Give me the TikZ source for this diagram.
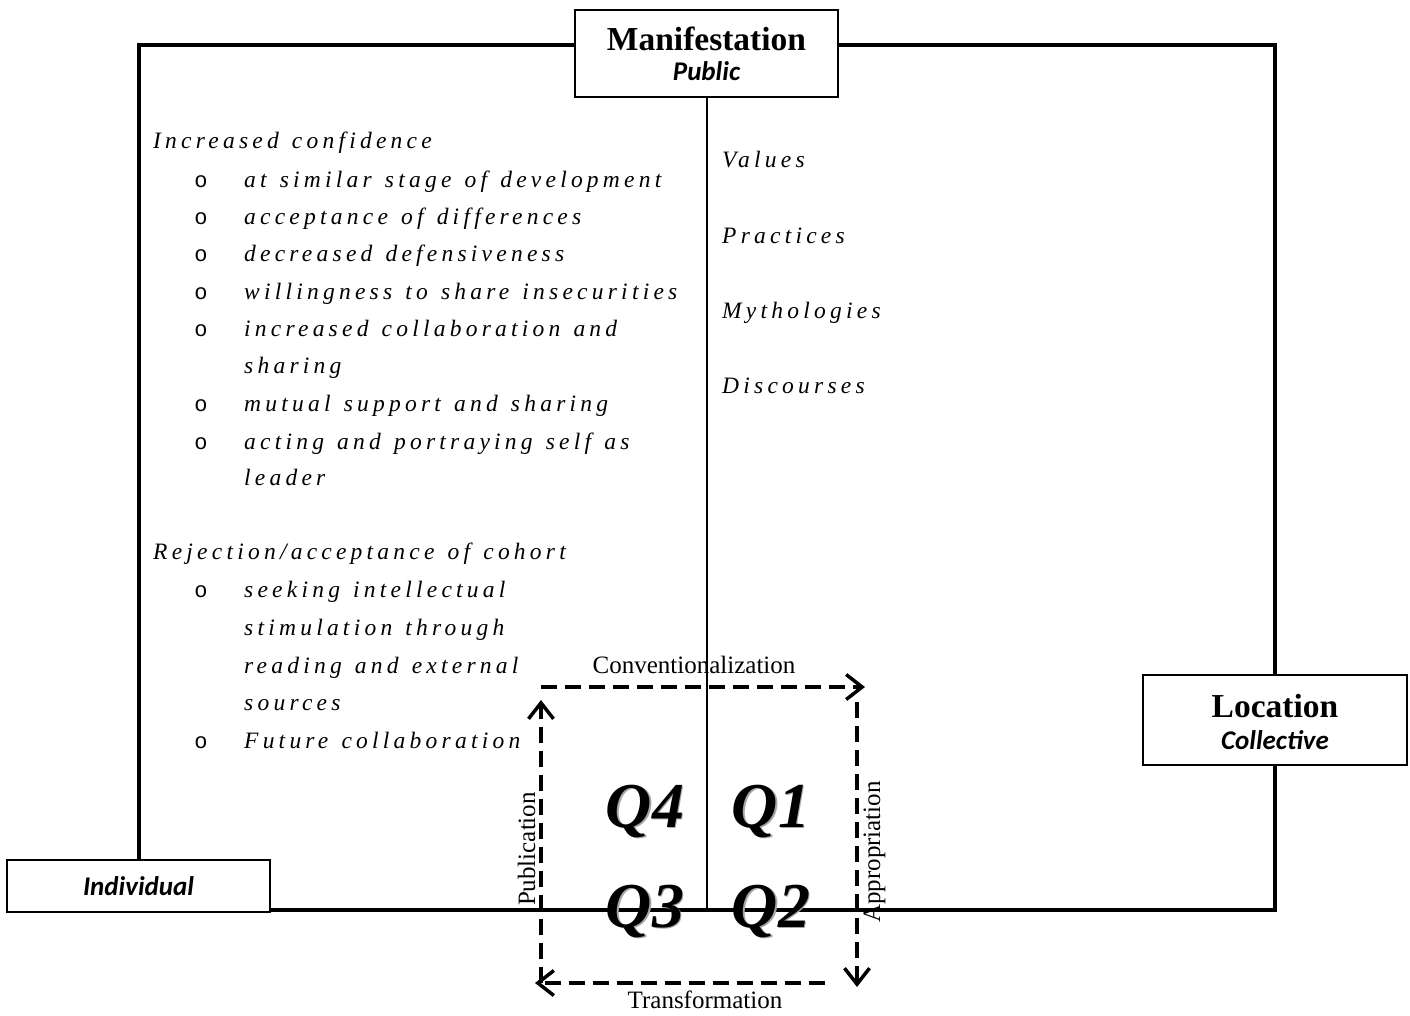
\documentclass[tikz,border=0pt]{standalone}
\usepackage{fontspec}
\setmainfont{Liberation Serif}
\newfontfamily\listfont[LetterSpace=18,WordSpace=1.3]{Liberation Serif}
\newfontfamily\calfont{Carlito}
\newfontfamily\bulletfont{Liberation Mono}
\usetikzlibrary{arrows.meta}

\tikzset{
  frame/.style={line width=3.5pt},
  divider/.style={line width=2pt},
  titlebox/.style={draw, line width=2pt, fill=white, inner sep=0pt},
  maintitle/.style={anchor=base, inner sep=0pt, font=\bfseries\fontsize{33.5}{36}\selectfont},
  subtitle/.style={anchor=base, inner sep=0pt, font=\calfont\bfseries\itshape\fontsize{27}{30}\selectfont},
  listhead/.style={anchor=base west, inner sep=0pt, font=\listfont\itshape\fontsize{23.5}{27}\selectfont},
  listitem/.style={listhead},
  bullet/.style={anchor=base, inner sep=0pt, font=\bulletfont\fontsize{22}{24}\selectfont},
  quad/.style={anchor=base, inner sep=0pt, font=\bfseries\itshape\fontsize{64}{64}\selectfont},
  quadshade/.style={quad, text=black!35},
  flow/.style={line width=3.5pt, dash pattern=on 16pt off 8pt,
    -{Straight Barb[length=16pt,width=25pt,line width=3.5pt]}},
  flowlabel/.style={inner sep=0pt, font=\fontsize{25}{28}\selectfont},
}

\begin{document}
\begin{tikzpicture}[x=1pt,y=-1pt]
\useasboundingbox (0,0) rectangle (1410,1015);

% corner points of the outer frame
\coordinate (tl) at (139,45);
\coordinate (tr) at (1275,45);
\coordinate (br) at (1275,910);

% axis label boxes
\node[titlebox, minimum width=263pt, minimum height=87pt] (manif) at (706.5,53.5) {};
\node[titlebox, minimum width=264pt, minimum height=90pt] (loc) at (1275,720) {};
\node[titlebox, minimum width=263pt, minimum height=52pt] (indiv) at (138.5,886) {};

% outer frame and the central divider
\draw[frame] (tl -| manif.west) -- (tl) -- (indiv.north -| tl);
\draw[frame] (tl -| manif.east) -- (tr) -- (loc.north);
\draw[frame] (loc.south) -- (br) -- (br -| indiv.east);
\draw[divider] (manif.south) -- (manif.south |- br);

% box texts
\node[maintitle] (manifT) at (706.5,50) {Manifestation};
\node[subtitle] (manifS) at (706.5,80) {Public};
\node[maintitle] (locT) at (1275,717) {Location};
\node[subtitle] (locS) at (1275,749) {Collective};
\node[subtitle] (indivS) at (138.5,895) {Individual};

% left list
\node[listhead] (h1) at (153,148) {Increased confidence};
\foreach \y/\t/\b [count=\i] in {
  187/at similar stage of development/1,
  224/acceptance of differences/1,
  261/decreased defensiveness/1,
  299/willingness to share insecurities/1,
  336/increased collaboration and/1,
  373/sharing/0,
  411/mutual support and sharing/1,
  449/acting and portraying self as/1,
  485/leader/0}{
  \node[listitem] (a\i) at (244,\y) {\t};
  \ifnum\b=1 \node[bullet] (ab\i) at (201,\y) {o};\fi
}
\node[listhead] (h2) at (153,559) {Rejection/acceptance of cohort};
\foreach \y/\t/\b [count=\i] in {
  597/seeking intellectual/1,
  635/stimulation through/0,
  673/reading and external/0,
  710/sources/0,
  748/Future collaboration/1}{
  \node[listitem] (r\i) at (244,\y) {\t};
  \ifnum\b=1 \node[bullet] (rb\i) at (201,\y) {o};\fi
}

% right list
\node[listitem] (v1) at (722,167) {Values};
\node[listitem] (v2) at (722,243) {Practices};
\node[listitem] (v3) at (722,318) {Mythologies};
\node[listitem] (v4) at (722,393) {Discourses};

% quadrant labels with a soft shade
\foreach \n/\x/\y in {Q4/645/827, Q1/771/827, Q3/645/927, Q2/771/927}{
  \node[quadshade] at (\x+1.5,\y+1.5) {\n};
  \node[quad] (\n) at (\x,\y) {\n};
}

% cycle of dashed arrows
\coordinate (c1) at (541,687);
\coordinate (c2) at (857,687);
\coordinate (c3) at (857,983);
\coordinate (c4) at (541,983);
\draw[flow] (c1) -- ([xshift=8pt]c2);
\draw[flow] ([yshift=-15pt]c2) -- ([yshift=-4pt]c3);
\draw[flow] ([xshift=-32pt]c3) -- ([xshift=-6pt]c4);
\draw[flow] (c4) -- ([yshift=-13pt]c1);

\node[flowlabel, anchor=base] (conv) at (694,673) {Conventionalization};
\node[flowlabel, anchor=base] (trans) at (705,1008) {Transformation};
\node[flowlabel, anchor=base, rotate=90] (pub) at (535,849) {Publication};
\node[flowlabel, anchor=base, rotate=90] (appr) at (880,852) {Appropriation};
\end{tikzpicture}
\end{document}
